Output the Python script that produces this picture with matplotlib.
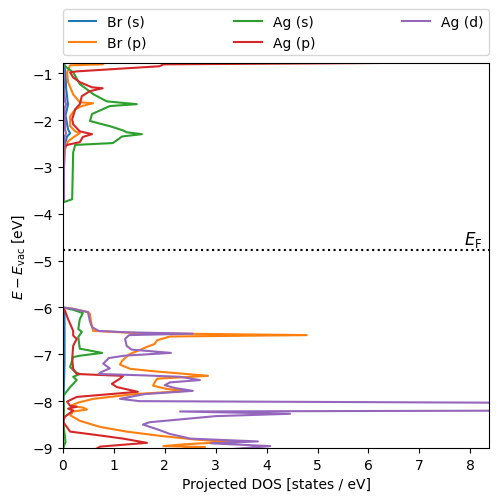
import numpy as np
import matplotlib
matplotlib.use("Agg")
import matplotlib.pyplot as plt

nan = np.nan

# energies (eV, relative to vacuum) and projected DOS (states / eV) per orbital
br_s_e = [-0.78, -1.0, -1.3, -1.6, -1.66, -1.9, -2.2, -2.28, -2.35, -2.5, -2.6, -3.7, nan,
          -6.0, -6.1, -7.2, -8.0, -9.1]
br_s_dos = [0.02, 0.05, 0.06, 0.09, 0.1, 0.05, 0.1, 0.14, 0.08, 0.04, 0.01, 0.0, nan,
            0.0, 0.03, 0.03, 0.01, 0.0]

br_p_e = [-0.79, -0.81, -0.83, -0.98, -1.19, -1.45, -1.62, -1.64, -1.7, -1.77, -1.92, -2.13,
          -2.24, -2.28, -2.34, -2.45, -2.62, -3.0, -3.7, nan,
          -6.0, -6.03, -6.1, -6.14, -6.3, -6.5, -6.55, -6.59, -6.62, -6.7, -6.78, -6.84, -6.88,
          -7.0, -7.14, -7.22, -7.31, -7.36, -7.46, -7.52, -7.6, -7.67, -7.74, -7.78, -7.85,
          -7.95, -8.03, -8.1, -8.14, -8.18, -8.22, -8.3, -8.42, -8.55, -8.65, -8.74, -8.82,
          -8.87, -8.92, -8.96, -8.98, -9.05]
br_p_dos = [0.8, 0.78, 0.14, 0.08, 0.1, 0.2, 0.33, 0.59, 0.37, 0.24, 0.14, 0.14,
            0.24, 0.33, 0.24, 0.1, 0.04, 0.02, 0.0, nan,
            0.0, 0.2, 0.5, 0.53, 0.55, 0.59, 1.5, 4.79, 2.1, 1.85, 1.8, 1.65, 1.57,
            1.3, 1.16, 1.12, 1.32, 1.77, 2.85, 1.85, 1.8, 1.77, 2.04, 2.44, 1.4,
            0.6, 0.3, 0.15, 0.4, 0.47, 0.2, 0.14, 0.33, 0.73, 1.25, 1.9, 2.6,
            3.28, 2.4, 1.97, 2.79, 2.0]

ag_s_e = [-0.8, -0.85, -0.98, -1.23, -1.45, -1.6, -1.66, -1.7, -1.87, -2.02, -2.13, -2.22,
          -2.26, -2.3, -2.35, -2.49, -2.53, -2.69, -3.69, -3.75, nan,
          -6.0, -6.05, -6.12, -6.25, -6.46, -6.52, -6.63, -6.88, -6.97, -7.03, -7.06, -7.27,
          -7.38, -7.42, -7.48, -7.55, -7.7, -7.84, -7.9, -8.1, -8.5, -8.87, -8.95, -9.05]
ag_s_dos = [0.02, 0.04, 0.2, 0.33, 0.6, 0.86, 1.45, 0.92, 0.57, 0.53, 0.92, 1.18,
            1.25, 1.55, 1.16, 0.98, 0.24, 0.2, 0.18, 0.02, nan,
            0.0, 0.2, 0.39, 0.33, 0.3, 0.37, 0.3, 0.33, 0.77, 0.33, 0.2, 0.14,
            0.24, 0.33, 0.2, 0.27, 0.14, 0.04, 0.0, 0.02, 0.01, 0.05, 0.02, 0.0]

ag_p_e = [-0.78, -0.81, -0.85, -0.96, -0.98, -1.09, -1.19, -1.3, -1.32, -1.38, -1.49, -1.66,
          -1.77, -1.98, -2.09, -2.24, -2.3, -2.36, -2.47, -2.53, -2.6, -3.7, nan,
          -6.0, -6.07, -6.25, -6.5, -6.6, -6.67, -6.82, -7.1, -7.31, -7.42, -7.44, -7.46,
          -7.52, -7.63, -7.7, -7.8, -7.91, -8.01, -8.1, -8.12, -8.16, -8.2, -8.33, -8.44,
          -8.65, -8.74, -8.8, -8.89, -8.97, -9.05]
ag_p_dos = [6.3, 1.97, 1.9, 0.27, 0.14, 0.2, 0.33, 0.57, 0.78, 0.53, 0.37, 0.33,
            0.24, 0.18, 0.2, 0.33, 0.57, 0.39, 0.33, 0.08, 0.0, 0.0, nan,
            0.0, 0.04, 0.1, 0.2, 0.2, 0.27, 0.2, 0.18, 0.2, 0.27, 0.7, 1.18,
            1.12, 0.96, 1.06, 1.47, 0.27, 0.08, 0.14, 0.27, 0.1, 0.2, 0.04, 0.0,
            0.14, 0.78, 1.18, 1.65, 0.73, 0.6]

ag_d_e = [-0.78, -1.3, -1.6, -1.66, -1.75, -2.2, -2.28, -2.36, -3.0, -3.7, nan,
          -6.0, -6.03, -6.1, -6.3, -6.42, -6.5, -6.53, -6.56, -6.59, -6.67, -6.82, -6.9,
          -6.97, -7.03, -7.08, -7.2, -7.3, -7.38, -7.42, -7.45, -7.48, -7.55, -7.6, -7.66,
          -7.72, -7.78, -7.85, -7.95, -8.0, -8.04, -8.2, -8.22, -8.27, -8.32, -8.45, -8.5,
          -8.6, -8.7, -8.8, -8.86, -8.9, -8.96, -9.05]
ag_d_dos = [0.01, 0.02, 0.04, 0.06, 0.03, 0.04, 0.06, 0.03, 0.02, 0.02, nan,
            0.0, 0.2, 0.49, 0.53, 0.57, 0.7, 1.25, 2.55, 1.3, 1.22, 1.25, 1.35,
            2.12, 1.2, 0.9, 0.79, 0.92, 0.75, 0.7, 1.6, 2.3, 2.69, 2.1, 2.0,
            2.2, 2.55, 1.6, 1.12, 1.5, 10.0, 10.0, 2.3, 4.46, 3.0, 1.7, 1.57,
            1.85, 2.1, 2.5, 3.83, 2.9, 4.07, 3.0]

e_fermi = -4.77

fig = plt.figure(figsize=(4.98, 5.02), dpi=100)
ax = fig.add_axes([0.1265, 0.1056, 0.8555, 0.767])

ax.plot(br_s_dos, br_s_e, label="Br (s)")
ax.plot(br_p_dos, br_p_e, label="Br (p)")
ax.plot(ag_s_dos, ag_s_e, label="Ag (s)")
ax.plot(ag_p_dos, ag_p_e, label="Ag (p)")
ax.plot(ag_d_dos, ag_d_e, label="Ag (d)")

ax.axhline(e_fermi, color="k", linestyle=":")
ax.text(8.25, e_fermi + 0.02, r"$E_\mathrm{F}$", ha="right", va="bottom", fontsize=12)

ax.set_xlim(0, 8.37)
ax.set_ylim(-9, -0.78)
ax.set_xlabel("Projected DOS [states / eV]")
ax.set_ylabel(r"$E - E_\mathrm{vac}$ [eV]")
ax.legend(bbox_to_anchor=(0, 1.02, 1, 0.2), loc="lower left", mode="expand",
          ncol=3, borderaxespad=0)

fig.savefig("out.png", dpi=100)
